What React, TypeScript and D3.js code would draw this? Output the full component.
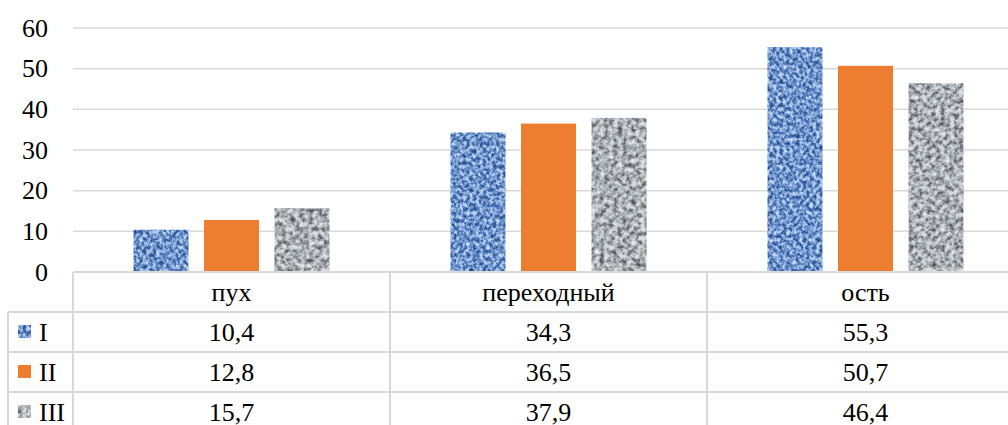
import React from "react";
import * as d3 from "d3";

const categories = ["пух", "переходный", "ость"];
const seriesNames = ["I", "II", "III"];
const valuesI = [10.4, 34.3, 55.3];
const valuesII = [12.8, 36.5, 50.7];
const valuesIII = [15.7, 37.9, 46.4];
const yTicks = [0, 10, 20, 30, 40, 50, 60];

const W = 1008;
const H = 425;
const FONT = "Liberation Serif, Times New Roman, DejaVu Serif, serif";
const GRID = "#d9d9d9";

export default function App() {
  const seriesValues = [valuesI, valuesII, valuesIII];
  const filters = ["url(#blueTex)", undefined, "url(#grayTex)"];
  const baseFill = ["#4a7cbf", "#ED7D31", "#9a9a9a"];

  const y = d3.scaleLinear().domain([0, 60]).range([272, 28]);
  const x0 = d3.scaleBand<string>().domain(categories).range([73, 1024]).padding(0);
  const x1 = d3
    .scaleBand<string>()
    .domain(seriesNames)
    .range([0, x0.bandwidth()])
    .paddingInner(0.22)
    .paddingOuter(0.858);

  const loc = d3.formatLocale({ decimal: ",", thousands: " ", grouping: [3], currency: ["", ""] });
  const fmt = loc.format(".1f");

  const tableTop = y(0);
  const rowH = 40;
  const headerBottom = tableTop + rowH;
  const colEdges = [73, ...categories.map((c) => (x0(c) as number) + x0.bandwidth())];
  const ts: React.CSSProperties = { fontFamily: FONT, fontSize: 26, fill: "#000" };

  return (
    <svg
      width={W}
      height={H}
      style={{ position: "absolute", left: 0, top: 0, display: "block", background: "#fff", fontFamily: FONT }}
    >
      <defs>
        <filter id="blueTex" x="0" y="0" width="1" height="1" colorInterpolationFilters="sRGB">
          <feTurbulence type="fractalNoise" baseFrequency="0.3 0.26" numOctaves={3} seed={7} result="n" />
          <feColorMatrix in="n" type="matrix" values="1 0 0 0 0  1 0 0 0 0  1 0 0 0 0  0 0 0 0 1" result="g" />
          <feComponentTransfer in="g" result="c">
            <feFuncR type="table" tableValues="0.08 0.14 0.28 0.6 0.84 0.9" />
            <feFuncG type="table" tableValues="0.2 0.28 0.45 0.72 0.9 0.94" />
            <feFuncB type="table" tableValues="0.4 0.5 0.7 0.9 0.98 1" />
          </feComponentTransfer>
          <feComposite in="c" in2="SourceGraphic" operator="in" />
        </filter>
        <filter id="grayTex" x="0" y="0" width="1" height="1" colorInterpolationFilters="sRGB">
          <feTurbulence type="fractalNoise" baseFrequency="0.22" numOctaves={3} seed={11} result="n" />
          <feColorMatrix in="n" type="matrix" values="1 0 0 0 0  1 0 0 0 0  1 0 0 0 0  0 0 0 0 1" result="g" />
          <feComponentTransfer in="g" result="c">
            <feFuncR type="table" tableValues="0.2 0.32 0.56 0.78 0.9 0.95" />
            <feFuncG type="table" tableValues="0.21 0.33 0.58 0.8 0.91 0.95" />
            <feFuncB type="table" tableValues="0.23 0.35 0.6 0.82 0.92 0.96" />
          </feComponentTransfer>
          <feComposite in="c" in2="SourceGraphic" operator="in" />
        </filter>
      </defs>

      {yTicks.map((t) => (
        <line key={"g" + t} x1={73} x2={W} y1={y(t)} y2={y(t)} stroke={GRID} strokeWidth={1.5} />
      ))}

      {yTicks.map((t) => (
        <text key={"t" + t} x={48} y={y(t)} textAnchor="end" dominantBaseline="central" style={ts}>
          {t}
        </text>
      ))}

      {categories.map((c, ci) =>
        seriesNames.map((s, si) => {
          const v = seriesValues[si][ci];
          return (
            <rect
              key={c + s}
              x={(x0(c) as number) + (x1(s) as number)}
              y={y(v)}
              width={x1.bandwidth()}
              height={y(0) - y(v)}
              fill={baseFill[si]}
              filter={filters[si]}
            />
          );
        })
      )}

      <line x1={73} x2={W} y1={tableTop} y2={tableTop} stroke={GRID} strokeWidth={2} />
      {[1, 2, 3, 4].map((r) => (
        <line
          key={"r" + r}
          x1={8}
          x2={W}
          y1={tableTop + r * rowH}
          y2={tableTop + r * rowH}
          stroke={GRID}
          strokeWidth={2}
        />
      ))}
      <line x1={8} x2={8} y1={headerBottom} y2={H} stroke={GRID} strokeWidth={2} />
      {colEdges.map((xe, i) => (
        <line key={"c" + i} x1={xe} x2={xe} y1={tableTop} y2={H} stroke={GRID} strokeWidth={2} />
      ))}

      {categories.map((c) => (
        <text
          key={"h" + c}
          x={(x0(c) as number) + x0.bandwidth() / 2}
          y={tableTop + rowH / 2}
          textAnchor="middle"
          dominantBaseline="central"
          style={ts}
        >
          {c}
        </text>
      ))}

      {seriesNames.map((s, si) => {
        const cy = headerBottom + si * rowH + rowH / 2;
        return (
          <g key={"row" + s}>
            <rect x={18} y={cy - 7} width={13} height={13} fill={baseFill[si]} filter={filters[si]} />
            <text x={39} y={cy} dominantBaseline="central" style={ts}>
              {s}
            </text>
            {categories.map((c, ci) => (
              <text
                key={s + c}
                x={(x0(c) as number) + x0.bandwidth() / 2}
                y={cy}
                textAnchor="middle"
                dominantBaseline="central"
                style={ts}
              >
                {fmt(seriesValues[si][ci])}
              </text>
            ))}
          </g>
        );
      })}
    </svg>
  );
}
